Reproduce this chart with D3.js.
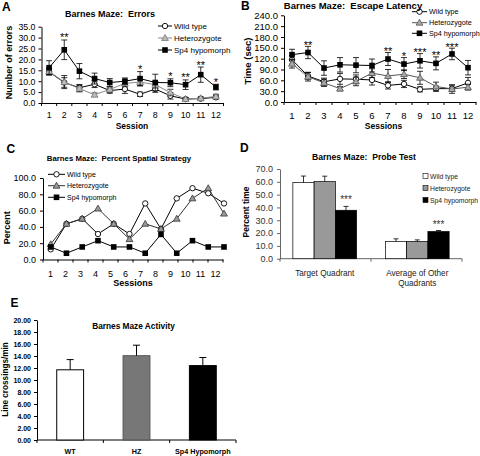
<!DOCTYPE html>
<html><head><meta charset="utf-8">
<script src="https://cdn.jsdelivr.net/npm/d3@7"></script>
<style>
body{margin:0;background:#fff}
svg{display:block;font-family:"Liberation Sans",Arial,sans-serif}
</style></head><body>
<svg id="c" width="480" height="456"></svg>
<script>
// ---------- data ----------
const sessions = [1,2,3,4,5,6,7,8,9,10,11,12];
const groupNames = ["Wild type","Heterozygote","Sp4 hypomorph"];

// A: errors
const errorsTicks = [0,5,10,15,20,25,30,35];
const errorsWT = [14.3, 9.4, 7.0, 8.6, 5.7, 6.4, 4.0, 6.4, 3.3, 1.8, 2.0, 2.6];
const errorsWTse = [1.5, 2.2, 1.5, 1.5, 1.2, 2.0, 1.0, 1.5, 1.5, 0.5, 0.5, 0.7];
const errorsHet = [14.5, 9.6, 6.6, 3.8, 6.2, 9.0, 9.6, 8.4, 4.8, 1.8, 2.2, 3.0];
const errorsHetse = [1.5, 3.0, 1.5, 0.8, 1.2, 1.5, 1.8, 1.5, 1.5, 0.6, 0.6, 1.0];
const errorsSp4 = [16.2, 24.4, 14.6, 11.2, 9.4, 10.0, 11.2, 9.4, 9.3, 8.4, 13.0, 7.3];
const errorsSp4se = [3.2, 4.5, 3.5, 2.5, 1.8, 1.5, 3.2, 3.8, 1.8, 2.2, 3.5, 1.3];
const errorsStars = ["", "**", "", "", "", "", "*", "", "*", "**", "**", "*"];

// B: escape latency
const latencyTicks = [0,30,60,90,120,150,180,210,240];
const latencyWT = [117, 72, 56, 64, 63, 61, 46, 50, 35, 37, 37, 53];
const latencyWTse = [12, 10, 10, 15, 12, 14, 10, 10, 7, 7, 8, 15];
const latencyHet = [106, 70, 53, 37, 57, 80, 72, 77, 67, 43, 36, 41];
const latencyHetse = [12, 12, 10, 6, 12, 12, 18, 12, 18, 12, 12, 8];
const latencySp4 = [131, 137, 94, 103, 102, 101, 119, 105, 114, 107, 133, 95];
const latencySp4se = [15, 17, 20, 20, 21, 18, 18, 18, 20, 18, 16, 20];
const latencyStars = ["", "**", "", "", "", "", "**", "*", "***", "**", "***", ""];

// C: percent spatial strategy
const spatialTicks = [0,20,40,60,80,100];
const spatialWT = [12.5, 43.8, 50.0, 31.3, 43.8, 31.3, 68.8, 37.5, 75.0, 87.5, 81.3, 68.8];
const spatialHet = [18.8, 43.8, 50.0, 62.5, 43.8, 25.0, 43.8, 37.5, 50.0, 75.0, 87.5, 56.3];
const spatialSp4 = [15.4, 7.7, 15.4, 23.1, 15.4, 15.4, 7.7, 30.8, 7.7, 23.1, 15.4, 15.4];

// D: probe test
const probeTicks = [0,10,20,30,40,50,60,70];
const probeCats = ["Target Quadrant", "Average of Other\nQuadrants"];
const probeWT = [59.5, 13.5];
const probeWTse = [5.0, 2.0];
const probeHet = [60.2, 13.5];
const probeHetse = [4.2, 1.2];
const probeSp4 = [37.8, 21.2];
const probeSp4se = [3.0, 0.8];
const probeStars = ["***", "***"];

// E: activity
const activityTicks = [0,2,4,6,8,10,12,14,16,18,20];
const activityCats = ["WT", "HZ", "Sp4 Hypomorph"];
const activityVals = [11.7, 14.05, 12.4];
const activitySE = [1.7, 1.75, 1.35];

// ---------- drawing ----------
const FONT = '"Liberation Sans", Arial, sans-serif';
const svg = d3.select("#c");
svg.append("rect").attr("width",480).attr("height",456).attr("fill","#fff");

function txt(g, x, y, s, o = {}) {
  const t = g.append("text").attr("x", x).attr("y", y).text(s)
    .attr("font-family", FONT)
    .attr("font-size", o.size || 9)
    .attr("font-weight", o.bold ? "bold" : "normal")
    .attr("text-anchor", o.anchor || "start")
    .attr("fill", o.fill || "#000")
    .style("white-space", "pre");
  if (o.rotate) t.attr("transform", `rotate(-90,${x},${y})`);
  return t;
}

function marker(g, type, x, y, st) {
  if (type === "circle") {
    g.append("circle").attr("cx", x).attr("cy", y).attr("r", 2.7)
      .attr("fill", "#fff").attr("stroke", "#000").attr("stroke-width", 0.9);
  } else if (type === "tri") {
    g.append("path").attr("d", d3.symbol(d3.symbolTriangle, 20)())
      .attr("transform", `translate(${x},${y + 0.5})`)
      .attr("fill", st.triFill).attr("stroke", st.triStroke).attr("stroke-width", 0.8);
  } else {
    g.append("rect").attr("x", x - 2.8).attr("y", y - 2.8).attr("width", 5.6).attr("height", 5.6)
      .attr("fill", "#000");
  }
}

function linePanel(c) {
  const g = svg.append("g");
  const x = d3.scaleBand().domain(sessions).range(c.xRange);
  const px = c.pointRange
    ? d3.scalePoint().domain(sessions).range(c.pointRange)
    : (d => x(d) + x.bandwidth() / 2);
  const y = d3.scaleLinear().domain([0, d3.max(c.yTicks)]).range(c.yRange);

  const ya = g.append("g").attr("transform", `translate(${c.xRange[0]},0)`)
    .call(d3.axisLeft(y).tickValues(c.yTicks).tickFormat(d3.format(".1f"))
      .tickSize(3).tickSizeOuter(0).tickPadding(c.yPad));
  ya.attr("font-family", FONT).attr("font-size", c.tickFs);
  ya.selectAll("path,line").attr("stroke", "#000");
  ya.selectAll("text").attr("fill", "#000");

  const xa = g.append("g").attr("transform", `translate(0,${c.yRange[0]})`)
    .call(d3.axisBottom(x).tickSize(0).tickSizeOuter(0).tickPadding(c.xPad));
  xa.attr("font-family", FONT).attr("font-size", c.tickFs);
  xa.select(".domain").attr("stroke", "#000");
  xa.selectAll("text").attr("fill", "#000");
  const bounds = sessions.map(s => x(s)).concat([c.xRange[1]]);
  g.append("g").selectAll("line").data(bounds).join("line")
    .attr("x1", d => d).attr("x2", d => d)
    .attr("y1", c.yRange[0]).attr("y2", c.yRange[0] + 3)
    .attr("stroke", "#000");

  c.series.forEach(s => {
    const sg = g.append("g");
    if (s.se) {
      s.vals.forEach((v, i) => {
        const cx = px(sessions[i]);
        const y1 = y(v + s.se[i]), y2 = y(v - s.se[i]);
        sg.append("line").attr("x1", cx).attr("x2", cx).attr("y1", y1).attr("y2", y2)
          .attr("stroke", "#000").attr("stroke-width", 0.8);
        [y1, y2].forEach(yy => sg.append("line").attr("x1", cx - 3).attr("x2", cx + 3)
          .attr("y1", yy).attr("y2", yy).attr("stroke", "#000").attr("stroke-width", 0.8));
      });
    }
    sg.append("path")
      .attr("d", d3.line().x((d, i) => px(sessions[i])).y(d => y(d))(s.vals))
      .attr("fill", "none").attr("stroke", s.line).attr("stroke-width", 1);
    s.vals.forEach((v, i) => marker(sg, s.type, px(sessions[i]), y(v), s));
  });

  if (c.stars) {
    const sp = c.series[2];
    c.stars.forEach((st, i) => {
      if (!st) return;
      txt(g, px(sessions[i]), y(sp.vals[i] + sp.se[i]) + c.starDy, st,
        { size: c.starFs, anchor: "middle" });
    });
  }

  // legend
  const L = c.legend;
  c.series.forEach((s, i) => {
    const ly = L.ys[i];
    g.append("line").attr("x1", L.x1).attr("x2", L.x2).attr("y1", ly).attr("y2", ly)
      .attr("stroke", s.line).attr("stroke-width", 1);
    marker(g, s.type, (L.x1 + L.x2) / 2, ly, s);
    txt(g, L.tx, ly + L.size * 0.35, groupNames[i], { size: L.size });
  });

  txt(g, c.letter[0], c.letter[1], c.letter[2], { size: 12, bold: true });
  txt(g, c.title[0], c.title[1], c.title[2], { size: c.title[3], bold: true, anchor: "middle" });
  txt(g, c.ylab[0], c.ylab[1], c.ylab[2], { size: c.ylab[3], bold: true, anchor: "middle", rotate: true });
  txt(g, c.xlab[0], c.xlab[1], c.xlab[2], { size: c.xlab[3], bold: true, anchor: "middle" });
}

// Panel A
linePanel({
  xRange: [41.5, 223.5], yRange: [103, 26.7], yTicks: errorsTicks,
  yPad: 3, xPad: 9, tickFs: 8.8,
  series: [
    { vals: errorsWT, se: errorsWTse, type: "circle", line: "#000" },
    { vals: errorsHet, se: errorsHetse, type: "tri", line: "#888", triFill: "#bbb", triStroke: "#777" },
    { vals: errorsSp4, se: errorsSp4se, type: "square", line: "#000" }
  ],
  stars: errorsStars, starDy: 1.5, starFs: 11,
  legend: { x1: 158, x2: 172, tx: 174, ys: [26, 38, 50], size: 8 },
  letter: [2, 11, "A"],
  title: [110, 17, "Barnes Maze:  Errors", 9],
  ylab: [11.5, 62.5, "Number of errors", 9],
  xlab: [132, 129.3, "Session", 8.5]
});

// Panel B
linePanel({
  xRange: [284, 476], yRange: [102, 15.3], yTicks: latencyTicks,
  yPad: 3, xPad: 9.8, tickFs: 9.5,
  series: [
    { vals: latencyWT, se: latencyWTse, type: "circle", line: "#000" },
    { vals: latencyHet, se: latencyHetse, type: "tri", line: "#555", triFill: "#aaa", triStroke: "#555" },
    { vals: latencySp4, se: latencySp4se, type: "square", line: "#000" }
  ],
  stars: latencyStars, starDy: 2.5, starFs: 11,
  legend: { x1: 412, x2: 427, tx: 429, ys: [11.7, 22.7, 33.3], size: 7.2 },
  letter: [241, 10, "B"],
  title: [353, 9, "Barnes Maze:  Escape Latency", 9.5],
  ylab: [251, 61, "Time (sec)", 9.5],
  xlab: [383.5, 129.3, "Sessions", 8.5]
});

// Panel C
linePanel({
  xRange: [43, 223], pointRange: [50.7, 224], yRange: [259.5, 178], yTicks: spatialTicks,
  yPad: 4, xPad: 11.5, tickFs: 9,
  series: [
    { vals: spatialWT, type: "circle", line: "#000" },
    { vals: spatialHet, type: "tri", line: "#333", triFill: "#999", triStroke: "#333" },
    { vals: spatialSp4, type: "square", line: "#000" }
  ],
  legend: { x1: 48, x2: 65, tx: 67, ys: [174.3, 185.7, 197.3], size: 7 },
  letter: [6.5, 153.3, "C"],
  title: [119, 160.7, "Barnes Maze:  Percent Spatial Strategy", 7.8],
  ylab: [10.5, 227.7, "Percent", 9],
  xlab: [133, 286, "Sessions", 9]
});

// Panel D
(function () {
  const g = svg.append("g");
  const x0 = d3.scaleBand().domain(probeCats).range([280, 462]).paddingInner(0.311).paddingOuter(0.139);
  const x1 = d3.scaleBand().domain(groupNames).range([0, x0.bandwidth()]);
  const y = d3.scaleLinear().domain([0, 70]).range([258.7, 169]);
  const fills = ["#fff", "#999", "#000"];
  const vals = [probeWT, probeHet, probeSp4];
  const ses = [probeWTse, probeHetse, probeSp4se];
  const axisCol = "#666";

  const ya = g.append("g").attr("transform", "translate(280,0)")
    .call(d3.axisLeft(y).tickValues(probeTicks).tickFormat(d3.format(".1f"))
      .tickSize(3).tickSizeOuter(0).tickPadding(4));
  ya.attr("font-family", FONT).attr("font-size", 9);
  ya.selectAll("path,line").attr("stroke", axisCol);
  ya.selectAll("text").attr("fill", "#333");

  g.append("line").attr("x1", 280).attr("x2", 462).attr("y1", y(0)).attr("y2", y(0)).attr("stroke", axisCol);
  const step = x0.step();
  const bounds = [280, x0(probeCats[1]) - step * x0.paddingInner() / 2, 462];
  bounds.forEach(b => g.append("line").attr("x1", b).attr("x2", b)
    .attr("y1", y(0)).attr("y2", y(0) + 3).attr("stroke", axisCol));

  probeCats.forEach((cat, ci) => {
    groupNames.forEach((gn, gi) => {
      const v = vals[gi][ci], se = ses[gi][ci];
      const bx = x0(cat) + x1(gn);
      g.append("rect").attr("x", bx).attr("y", y(v)).attr("width", x1.bandwidth())
        .attr("height", y(0) - y(v)).attr("fill", fills[gi]).attr("stroke", "#000").attr("stroke-width", 0.7);
      const cx = bx + x1.bandwidth() / 2;
      g.append("line").attr("x1", cx).attr("x2", cx).attr("y1", y(v)).attr("y2", y(v + se))
        .attr("stroke", "#000").attr("stroke-width", 0.8);
      g.append("line").attr("x1", cx - 2.5).attr("x2", cx + 2.5).attr("y1", y(v + se)).attr("y2", y(v + se))
        .attr("stroke", "#000").attr("stroke-width", 0.8);
      if (gi === 2) txt(g, cx, y(v + se) - 3, probeStars[ci], { size: 10, anchor: "middle", fill: "#333" });
    });
    const lines = cat.split("\n");
    lines.forEach((ln, li) => txt(g, x0(cat) + x0.bandwidth() / 2, 276 + li * 9.5, ln,
      { size: 8.2, anchor: "middle", fill: "#222" }));
  });

  // legend
  const ly = [176, 188, 200];
  groupNames.forEach((gn, gi) => {
    g.append("rect").attr("x", 423).attr("y", ly[gi] - 2.5).attr("width", 5).attr("height", 5)
      .attr("fill", fills[gi]).attr("stroke", "#000").attr("stroke-width", 0.6);
    txt(g, 430, ly[gi] + 2.5, gn, { size: 6.8, fill: "#222" });
  });

  txt(g, 240, 151.7, "D", { size: 12, bold: true });
  txt(g, 364, 159.5, "Barnes Maze:  Probe Test", { size: 8.6, bold: true, anchor: "middle" });
  txt(g, 249, 212, "Percent time", { size: 8.5, bold: true, anchor: "middle", rotate: true });
})();

// Panel E
(function () {
  const g = svg.append("g");
  const x = d3.scaleBand().domain(activityCats).range([37, 236]).paddingInner(0.595).paddingOuter(0.2975);
  const y = d3.scaleLinear().domain([0, 20]).range([440, 320]);
  const fills = ["#fff", "#777", "#000"];
  const strokes = ["#000", "#555", "#000"];

  const ya = g.append("g").attr("transform", "translate(37,0)")
    .call(d3.axisLeft(y).tickValues(activityTicks).tickFormat(d3.format(".2f"))
      .tickSize(3).tickSizeOuter(0).tickPadding(3));
  ya.attr("font-family", FONT).attr("font-size", 7).attr("font-weight", "bold");
  ya.selectAll("path,line").attr("stroke", "#000");
  ya.selectAll("text").attr("fill", "#000");

  g.append("line").attr("x1", 37).attr("x2", 236).attr("y1", y(0)).attr("y2", y(0)).attr("stroke", "#000");
  const step = x.step();
  const bounds = [37].concat(activityCats.slice(1).map(c => x(c) - step * x.paddingInner() / 2)).concat([236]);
  bounds.forEach(b => g.append("line").attr("x1", b).attr("x2", b)
    .attr("y1", y(0)).attr("y2", y(0) + 3).attr("stroke", "#000"));

  activityCats.forEach((c, i) => {
    const v = activityVals[i], se = activitySE[i];
    g.append("rect").attr("x", x(c)).attr("y", y(v)).attr("width", x.bandwidth())
      .attr("height", y(0) - y(v)).attr("fill", fills[i]).attr("stroke", strokes[i]).attr("stroke-width", 1);
    const cx = x(c) + x.bandwidth() / 2;
    g.append("line").attr("x1", cx).attr("x2", cx).attr("y1", y(v)).attr("y2", y(v + se))
      .attr("stroke", "#000").attr("stroke-width", 1);
    g.append("line").attr("x1", cx - 3.5).attr("x2", cx + 3.5).attr("y1", y(v + se)).attr("y2", y(v + se))
      .attr("stroke", "#000").attr("stroke-width", 1);
    txt(g, cx, 453.5, c, { size: 7.2, bold: true, anchor: "middle" });
  });

  txt(g, 10.5, 307.3, "E", { size: 12, bold: true });
  txt(g, 133.5, 328.5, "Barnes Maze Activity", { size: 8.3, bold: true, anchor: "middle" });
  txt(g, 7.8, 379.5, "Line crossings/min", { size: 8.2, bold: true, anchor: "middle", rotate: true });
})();
</script>
</body></html>
